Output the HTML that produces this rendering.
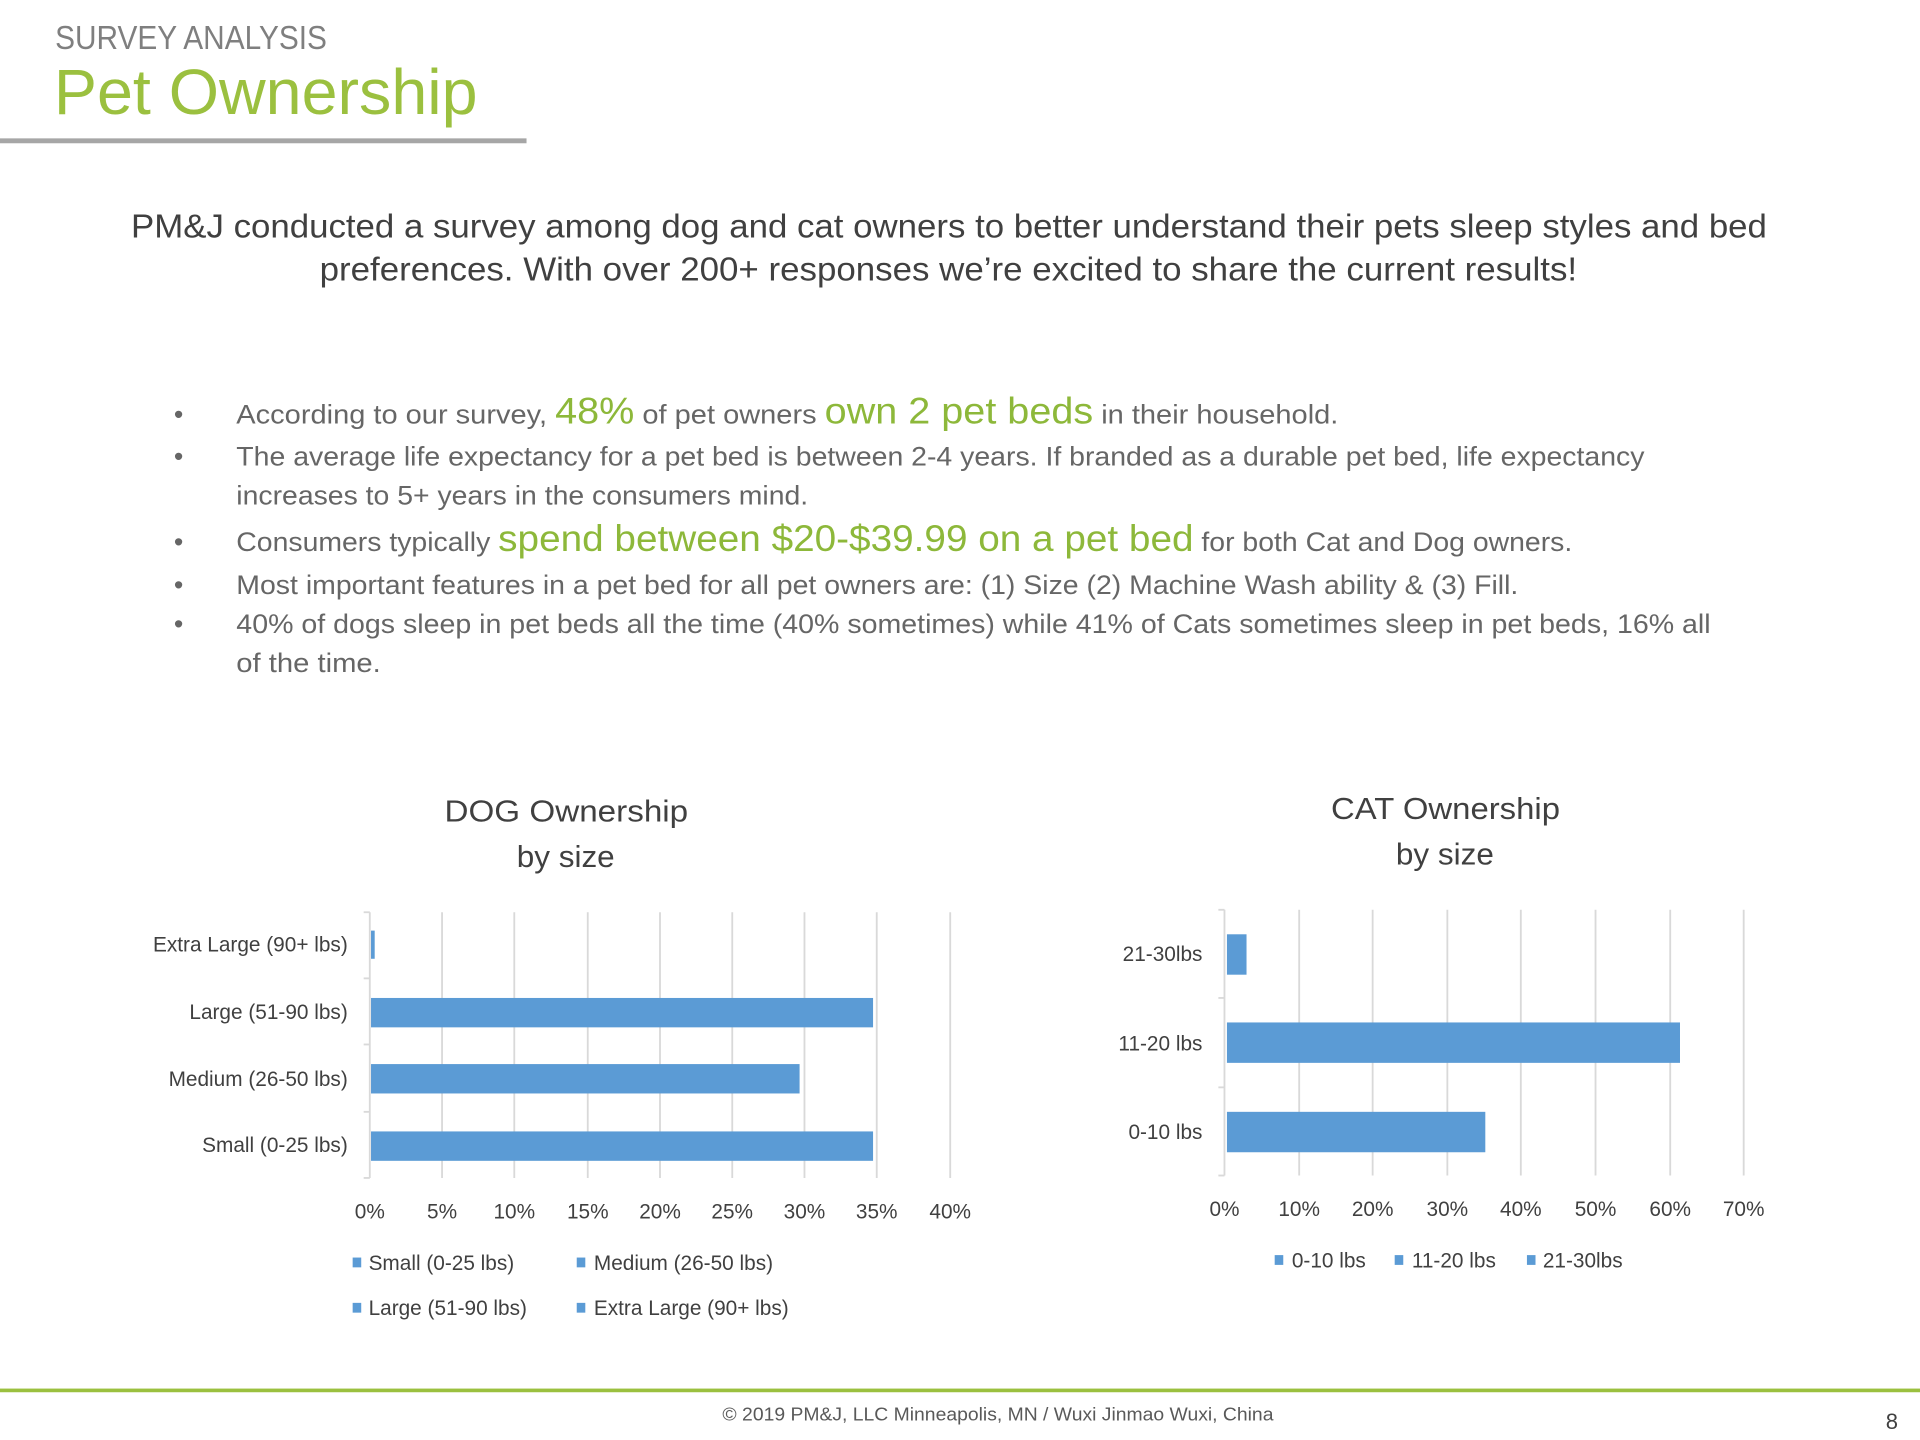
<!DOCTYPE html>
<html><head><meta charset="utf-8"><style>
html,body{margin:0;padding:0;background:#fff;}
svg{display:block;}
text{font-family:"Liberation Sans",sans-serif;}
</style></head><body>
<svg width="1920" height="1440" viewBox="0 0 1568 1176" xmlns="http://www.w3.org/2000/svg">
<rect width="1568" height="1176" fill="#fff"/>
<text x="45" y="40" font-size="27" fill="#7f7f7f" textLength="222" lengthAdjust="spacingAndGlyphs">SURVEY ANALYSIS</text>
<text x="44" y="93" font-size="52" fill="#9bc03f" textLength="346" lengthAdjust="spacingAndGlyphs">Pet Ownership</text>
<rect x="0" y="113" width="430" height="4" fill="#a6a6a6"/>

<text x="107" y="194" font-size="27" fill="#404040" textLength="1336" lengthAdjust="spacingAndGlyphs">PM&amp;J conducted a survey among dog and cat owners to better understand their pets sleep styles and bed</text>
<text x="261" y="229" font-size="27" fill="#404040" textLength="1027" lengthAdjust="spacingAndGlyphs">preferences.  With over 200+ responses we’re excited to share the current results!</text>

<g font-size="22" fill="#666">
<text x="142" y="346">•</text><text x="142" y="380">•</text><text x="142" y="450">•</text><text x="142" y="485">•</text><text x="142" y="517">•</text>
<text x="193" y="346" textLength="900" lengthAdjust="spacingAndGlyphs">According to our survey, <tspan font-size="30" fill="#8db83a">48%</tspan> of pet owners <tspan font-size="30" fill="#8db83a">own 2 pet beds</tspan> in their household.</text>
<text x="193" y="380" textLength="1150" lengthAdjust="spacingAndGlyphs">The average life expectancy for a pet bed is between 2-4 years. If branded as a durable pet bed, life expectancy</text>
<text x="193" y="412" textLength="467" lengthAdjust="spacingAndGlyphs">increases to 5+ years in the consumers mind.</text>
<text x="193" y="450" textLength="1091" lengthAdjust="spacingAndGlyphs">Consumers typically <tspan font-size="30" fill="#8db83a">spend between $20-$39.99 on a pet bed</tspan> for both Cat and Dog owners.</text>
<text x="193" y="485" textLength="1047" lengthAdjust="spacingAndGlyphs">Most important features in a pet bed for all pet owners are: (1) Size (2) Machine Wash ability &amp; (3) Fill.</text>
<text x="193" y="517" textLength="1204" lengthAdjust="spacingAndGlyphs">40% of dogs sleep in pet beds all the time (40% sometimes) while 41% of Cats sometimes sleep in pet beds, 16% all</text>
<text x="193" y="549" textLength="118" lengthAdjust="spacingAndGlyphs">of the time.</text>
</g>

<g font-size="25" fill="#404040">
<text x="363" y="671" textLength="199" lengthAdjust="spacingAndGlyphs">DOG Ownership</text>
<text x="422" y="708" textLength="80" lengthAdjust="spacingAndGlyphs">by size</text>
<text x="1087" y="669" textLength="187" lengthAdjust="spacingAndGlyphs">CAT Ownership</text>
<text x="1140" y="706" textLength="80" lengthAdjust="spacingAndGlyphs">by size</text>
</g>
<g stroke="#d9d9d9" stroke-width="1.5">
<line x1="361" y1="745" x2="361" y2="962"/><line x1="420" y1="745" x2="420" y2="962"/>
<line x1="480" y1="745" x2="480" y2="962"/><line x1="539" y1="745" x2="539" y2="962"/>
<line x1="598" y1="745" x2="598" y2="962"/><line x1="657" y1="745" x2="657" y2="962"/>
<line x1="716" y1="745" x2="716" y2="962"/><line x1="776" y1="745" x2="776" y2="962"/>
<line x1="302" y1="745" x2="302" y2="962"/>
<line x1="297" y1="745" x2="302" y2="745"/><line x1="297" y1="799" x2="302" y2="799"/>
<line x1="297" y1="853" x2="302" y2="853"/><line x1="297" y1="908" x2="302" y2="908"/><line x1="297" y1="962" x2="302" y2="962"/>
</g>
<g fill="#5b9bd5">
<rect x="303" y="760" width="3" height="23"/>
<rect x="303" y="815" width="410" height="24"/>
<rect x="303" y="869" width="350" height="24"/>
<rect x="303" y="924" width="410" height="24"/>
</g>
<g font-size="17" fill="#404040" text-anchor="end">
<text x="284" y="777">Extra Large (90+ lbs)</text>
<text x="284" y="832">Large (51-90 lbs)</text>
<text x="284" y="887">Medium (26-50 lbs)</text>
<text x="284" y="941">Small (0-25 lbs)</text>
</g>
<g font-size="17" fill="#404040" text-anchor="middle">
<text x="302" y="995">0%</text><text x="361" y="995">5%</text><text x="420" y="995">10%</text>
<text x="480" y="995">15%</text><text x="539" y="995">20%</text><text x="598" y="995">25%</text>
<text x="657" y="995">30%</text><text x="716" y="995">35%</text><text x="776" y="995">40%</text>
</g>
<g fill="#5b9bd5">
<rect x="288" y="1027" width="7" height="8"/><rect x="471" y="1027" width="7" height="8"/>
<rect x="288" y="1064" width="7" height="8"/><rect x="471" y="1064" width="7" height="8"/>
</g>
<g font-size="17" fill="#404040">
<text x="301" y="1037">Small (0-25 lbs)</text><text x="485" y="1037">Medium (26-50 lbs)</text>
<text x="301" y="1074">Large (51-90 lbs)</text><text x="485" y="1074">Extra Large (90+ lbs)</text>
</g>

<g stroke="#d9d9d9" stroke-width="1.5">
<line x1="1061" y1="743" x2="1061" y2="960"/><line x1="1121" y1="743" x2="1121" y2="960"/>
<line x1="1182" y1="743" x2="1182" y2="960"/><line x1="1242" y1="743" x2="1242" y2="960"/>
<line x1="1303" y1="743" x2="1303" y2="960"/><line x1="1364" y1="743" x2="1364" y2="960"/>
<line x1="1424" y1="743" x2="1424" y2="960"/>
<line x1="1000" y1="743" x2="1000" y2="960"/>
<line x1="995" y1="743" x2="1000" y2="743"/><line x1="995" y1="815" x2="1000" y2="815"/>
<line x1="995" y1="888" x2="1000" y2="888"/><line x1="995" y1="960" x2="1000" y2="960"/>
</g>
<g fill="#5b9bd5">
<rect x="1002" y="763" width="16" height="33"/>
<rect x="1002" y="835" width="370" height="33"/>
<rect x="1002" y="908" width="211" height="33"/>
</g>
<g font-size="17" fill="#404040" text-anchor="end">
<text x="982" y="785">21-30lbs</text>
<text x="982" y="858">11-20 lbs</text>
<text x="982" y="930">0-10 lbs</text>
</g>
<g font-size="17" fill="#404040" text-anchor="middle">
<text x="1000" y="993">0%</text><text x="1061" y="993">10%</text><text x="1121" y="993">20%</text>
<text x="1182" y="993">30%</text><text x="1242" y="993">40%</text><text x="1303" y="993">50%</text>
<text x="1364" y="993">60%</text><text x="1424" y="993">70%</text>
</g>
<g fill="#5b9bd5">
<rect x="1041" y="1025" width="7" height="8"/><rect x="1139" y="1025" width="7" height="8"/><rect x="1247" y="1025" width="7" height="8"/>
</g>
<g font-size="17" fill="#404040">
<text x="1055" y="1035">0-10 lbs</text><text x="1153" y="1035">11-20 lbs</text><text x="1260" y="1035">21-30lbs</text>
</g>

<rect x="0" y="1134" width="1568" height="3" fill="#9bc03f"/>
<text x="590" y="1160" font-size="15" fill="#595959" textLength="450" lengthAdjust="spacingAndGlyphs">© 2019 PM&amp;J, LLC  Minneapolis, MN  /  Wuxi Jinmao  Wuxi, China</text>
<text x="1545" y="1167" font-size="18" fill="#404040" text-anchor="middle">8</text>
</svg>
</body></html>
